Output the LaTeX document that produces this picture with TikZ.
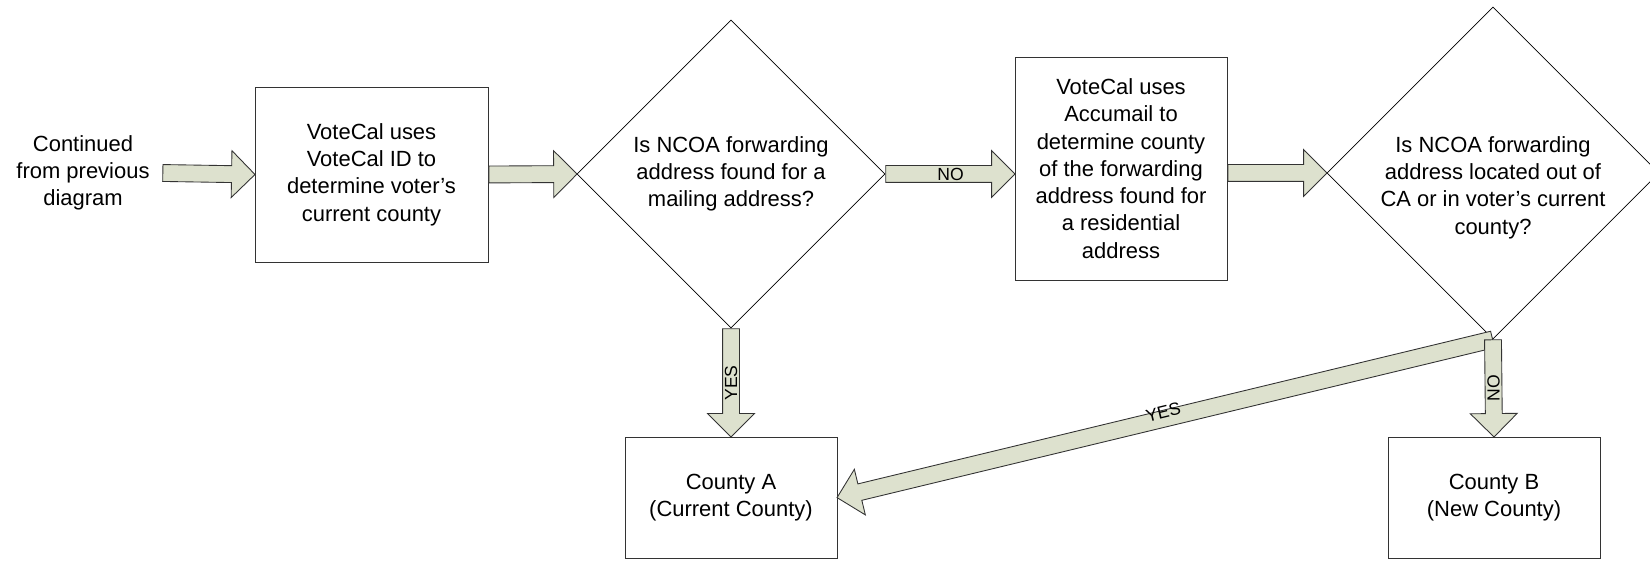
\documentclass[tikz,border=0pt]{standalone}
\usepackage{fontspec}
\setmainfont{Liberation Sans}
\usetikzlibrary{shapes.geometric, shapes.arrows, calc}

\definecolor{arrowfill}{RGB}{221,225,206}

\begin{document}
\begin{tikzpicture}[
  stepbox/.style={draw=black!80, line width=0.5pt, align=center, inner sep=0pt},
  decision/.style={diamond, aspect=1, draw=black, line width=0.4pt, align=center, inner sep=-12pt},
  flow/.style={single arrow, draw=black!80, fill=arrowfill, line width=0.5pt,
               inner xsep=0pt, inner ysep=0.16cm, single arrow head extend=0.3cm,
               single arrow tip angle=90, anchor=tail},
  flowlabel/.style={font=\fontsize{10}{12}\selectfont, inner sep=0pt},
  every node/.style={font=\fontsize{12.5}{15.5}\selectfont},
]

\useasboundingbox (0,0) rectangle (33,11.2);

%% ============ START ============
\node[align=center, inner sep=0.25cm] (cont) at (1.66,7.74)
  {Continued\\from previous\\diagram};

%% ============ STEPS ============
\node[stepbox, minimum width=4.66cm, minimum height=3.5cm] (box1) at (7.43,7.71)
  {VoteCal uses\\VoteCal ID to\\determine voter’s\\current county};

\node[decision, minimum width=6.16cm, minimum height=6.16cm] (dec1) at (14.62,7.72)
  {Is NCOA forwarding\\address found for a\\mailing address?};

\node[stepbox, minimum width=4.24cm, minimum height=4.46cm] (box2) at (22.42,7.83)
  {VoteCal uses\\Accumail to\\determine county\\of the forwarding\\address found for\\a residential\\address};

\node[decision, minimum width=6.64cm, minimum height=6.64cm] (dec2) at (29.86,7.74) {};
\node[align=center] (dec2text) at ([yshift=-0.29cm]dec2.center)
  {Is NCOA forwarding\\address located out of\\CA or in voter’s current\\county?};

%% ============ RESULTS ============
\node[stepbox, minimum width=4.24cm, minimum height=2.42cm] (countyA) at (14.62,1.25)
  {County A\\(Current County)};
\node[stepbox, minimum width=4.24cm, minimum height=2.42cm] (countyB) at (29.88,1.25)
  {County B\\(New County)};

%% ============ BLOCK ARROWS ============
\foreach \src/\dst/\nm in {cont.east/box1.west/a1, box1.east/dec1.west/a2,
    dec1.east/{dec1.east -| box2.west}/a3, {box2.east |- dec2.west}/dec2.west/a4,
    dec1.south/countyA.north/a5, dec2.south/countyA.east/a7,
    dec2.south/countyB.north/a6}
  \path let \p1=(\src), \p2=(\dst),
            \n1={atan2(\y2-\y1,\x2-\x1)}, \n2={veclen(\x2-\x1,\y2-\y1)} in
    node[flow, minimum height=\n2, rotate=\n1] (\nm) at (\p1) {};

% labels on the arrows
\node[flowlabel] at ($(a3.tail)!0.5!(a3.tip)$) {NO};
\node[flowlabel, rotate=90] at ($(a5.tail)!0.5!(a5.tip)$) {YES};
\node[flowlabel, rotate=90] at ($(a6.tail)!0.5!(a6.tip)$) {NO};
\path let \p1=(a7.tail), \p2=(a7.tip) in
  node[flowlabel, anchor=south, rotate={atan2(\y1-\y2,\x1-\x2)}] at ($(\p1)!0.5!(\p2)$) {YES};

\end{tikzpicture}
\end{document}
